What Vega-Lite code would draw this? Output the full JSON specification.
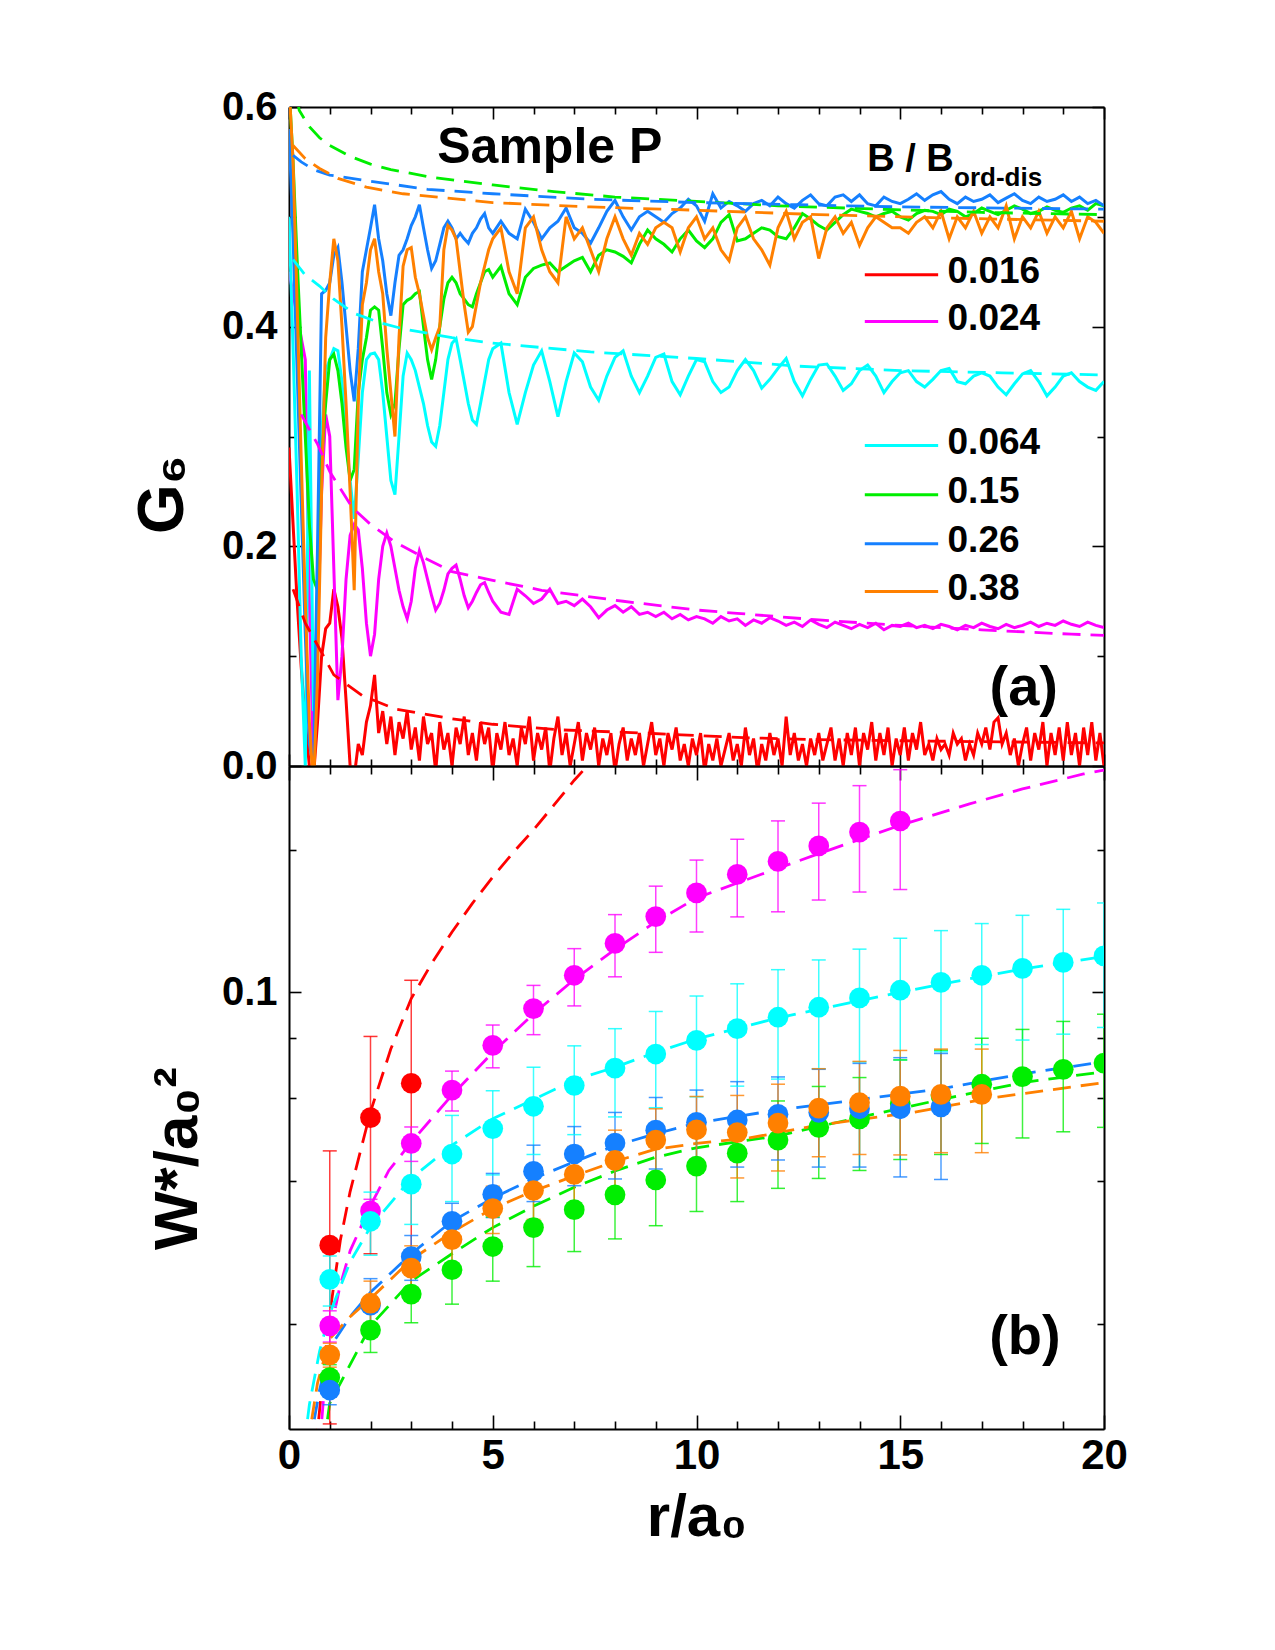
{
"$schema":"https://vega.github.io/schema/vega-lite/v6.json",
"background":"white",
"padding":{"left":131,"top":87,"right":5,"bottom":5},
"spacing":0,
"bounds":"flush",
"config":{
 "view":{"stroke":null},
 "font":"Liberation Sans",
 "axis":{"domainColor":"black","domainWidth":2,"tickColor":"black","tickWidth":1.6,"labelFont":"Liberation Sans","labelFontWeight":"bold","labelColor":"black","titleFont":"Liberation Sans","titleFontWeight":"bold","titleColor":"black","grid":false,"labelFlush":false,"labelOverlap":false}
},
"datasets":{
"g6":[
{"s":"a","r":0,"g":0.29},{"s":"a","r":0.1,"g":0.22},{"s":"a","r":0.2,"g":0.15},{"s":"a","r":0.3,"g":0.09},{"s":"a","r":0.4,"g":0.04},{"s":"a","r":0.5,"g":0.0},{"s":"a","r":0.6,"g":-0.01},{"s":"a","r":0.7,"g":0.04},{"s":"a","r":0.8,"g":0.10},{"s":"a","r":0.9,"g":0.125},
{"s":"a","r":1.0,"g":0.13},{"s":"a","r":1.1,"g":0.161},{"s":"a","r":1.2,"g":0.145},{"s":"a","r":1.3,"g":0.116},{"s":"a","r":1.4,"g":0.06},{"s":"a","r":1.5,"g":0.0},{"s":"a","r":1.6,"g":-0.01},{"s":"a","r":1.7,"g":0.02},{"s":"a","r":1.8,"g":0.01},{"s":"a","r":1.9,"g":0.04},
{"s":"a","r":2.0,"g":0.055},{"s":"a","r":2.1,"g":0.083},{"s":"a","r":2.2,"g":0.03},{"s":"a","r":2.3,"g":0.05},{"s":"a","r":2.4,"g":0.02},{"s":"a","r":2.5,"g":0.045},{"s":"a","r":2.6,"g":0.01},{"s":"a","r":2.7,"g":0.04},{"s":"a","r":2.8,"g":0.025},{"s":"a","r":2.9,"g":0.05},
{"s":"a","r":3.0,"g":0.015},{"s":"a","r":3.1,"g":0.035},{"s":"a","r":3.2,"g":0.005},{"s":"a","r":3.3,"g":0.045},{"s":"a","r":3.4,"g":0.02},{"s":"a","r":3.5,"g":0.03},{"s":"a","r":3.6,"g":-0.005},{"s":"a","r":3.7,"g":0.04},{"s":"a","r":3.8,"g":0.015},{"s":"a","r":3.9,"g":0.03},
{"s":"a","r":4.0,"g":0.0},{"s":"a","r":4.1,"g":0.035},{"s":"a","r":4.2,"g":0.02},{"s":"a","r":4.3,"g":0.045},{"s":"a","r":4.4,"g":0.01},{"s":"a","r":4.5,"g":0.03},{"s":"a","r":4.6,"g":0.005},{"s":"a","r":4.7,"g":0.04},{"s":"a","r":4.8,"g":0.02},{"s":"a","r":4.9,"g":0.035},
{"s":"a","r":5.0,"g":-0.005},{"s":"a","r":5.1,"g":0.03},{"s":"a","r":5.2,"g":0.015},{"s":"a","r":5.3,"g":0.04},{"s":"a","r":5.4,"g":0.01},{"s":"a","r":5.5,"g":0.025},{"s":"a","r":5.6,"g":0.0},{"s":"a","r":5.7,"g":0.035},{"s":"a","r":5.8,"g":0.02},{"s":"a","r":5.9,"g":0.045},
{"s":"a","r":6.0,"g":0.005},{"s":"a","r":6.1,"g":0.03},{"s":"a","r":6.2,"g":0.015},{"s":"a","r":6.3,"g":0.035},{"s":"a","r":6.4,"g":-0.005},{"s":"a","r":6.5,"g":0.025},{"s":"a","r":6.6,"g":0.045},{"s":"a","r":6.7,"g":0.01},{"s":"a","r":6.8,"g":0.03},{"s":"a","r":6.9,"g":0.0},
{"s":"a","r":7.0,"g":0.02},{"s":"a","r":7.1,"g":0.04},{"s":"a","r":7.2,"g":0.005},{"s":"a","r":7.3,"g":0.03},{"s":"a","r":7.4,"g":0.015},{"s":"a","r":7.5,"g":0.035},{"s":"a","r":7.6,"g":0.0},{"s":"a","r":7.7,"g":0.025},{"s":"a","r":7.8,"g":0.01},{"s":"a","r":7.9,"g":0.03},
{"s":"a","r":8.0,"g":-0.005},{"s":"a","r":8.1,"g":0.02},{"s":"a","r":8.2,"g":0.035},{"s":"a","r":8.3,"g":0.005},{"s":"a","r":8.4,"g":0.025},{"s":"a","r":8.5,"g":0.01},{"s":"a","r":8.6,"g":0.03},{"s":"a","r":8.7,"g":0.0},{"s":"a","r":8.8,"g":0.02},{"s":"a","r":8.9,"g":0.04},
{"s":"a","r":9.0,"g":0.01},{"s":"a","r":9.1,"g":0.025},{"s":"a","r":9.2,"g":0.0},{"s":"a","r":9.3,"g":0.03},{"s":"a","r":9.4,"g":0.015},{"s":"a","r":9.5,"g":0.035},{"s":"a","r":9.6,"g":0.005},{"s":"a","r":9.7,"g":0.02},{"s":"a","r":9.8,"g":0.0},{"s":"a","r":9.9,"g":0.025},
{"s":"a","r":10.0,"g":0.01},{"s":"a","r":10.1,"g":0.03},{"s":"a","r":10.2,"g":-0.005},{"s":"a","r":10.3,"g":0.02},{"s":"a","r":10.4,"g":0.005},{"s":"a","r":10.5,"g":0.025},{"s":"a","r":10.6,"g":0.0},{"s":"a","r":10.7,"g":0.015},{"s":"a","r":10.8,"g":0.03},{"s":"a","r":10.9,"g":0.005},
{"s":"a","r":11.0,"g":0.02},{"s":"a","r":11.1,"g":0.0},{"s":"a","r":11.2,"g":0.035},{"s":"a","r":11.3,"g":0.01},{"s":"a","r":11.4,"g":0.025},{"s":"a","r":11.5,"g":-0.005},{"s":"a","r":11.6,"g":0.02},{"s":"a","r":11.7,"g":0.005},{"s":"a","r":11.8,"g":0.03},{"s":"a","r":11.9,"g":0.01},
{"s":"a","r":12.0,"g":0.025},{"s":"a","r":12.1,"g":0.0},{"s":"a","r":12.2,"g":0.045},{"s":"a","r":12.3,"g":0.01},{"s":"a","r":12.4,"g":0.03},{"s":"a","r":12.5,"g":0.005},{"s":"a","r":12.6,"g":0.02},{"s":"a","r":12.7,"g":0.0},{"s":"a","r":12.8,"g":0.025},{"s":"a","r":12.9,"g":0.01},
{"s":"a","r":13.0,"g":0.03},{"s":"a","r":13.1,"g":0.005},{"s":"a","r":13.2,"g":0.02},{"s":"a","r":13.3,"g":0.035},{"s":"a","r":13.4,"g":0.005},{"s":"a","r":13.5,"g":0.025},{"s":"a","r":13.6,"g":0.0},{"s":"a","r":13.7,"g":0.03},{"s":"a","r":13.8,"g":0.01},{"s":"a","r":13.9,"g":0.035},
{"s":"a","r":14.0,"g":0.0},{"s":"a","r":14.1,"g":0.03},{"s":"a","r":14.2,"g":0.015},{"s":"a","r":14.3,"g":0.04},{"s":"a","r":14.4,"g":0.005},{"s":"a","r":14.5,"g":0.03},{"s":"a","r":14.6,"g":0.01},{"s":"a","r":14.7,"g":0.035},{"s":"a","r":14.8,"g":0.0},{"s":"a","r":14.9,"g":0.025},
{"s":"a","r":15.0,"g":0.01},{"s":"a","r":15.1,"g":0.035},{"s":"a","r":15.2,"g":0.005},{"s":"a","r":15.3,"g":0.03},{"s":"a","r":15.4,"g":0.015},{"s":"a","r":15.5,"g":0.04},{"s":"a","r":15.6,"g":0.01},{"s":"a","r":15.7,"g":0.02},{"s":"a","r":15.8,"g":0.005},{"s":"a","r":15.9,"g":0.025},
{"s":"a","r":16.0,"g":0.015},{"s":"a","r":16.1,"g":0.02},{"s":"a","r":16.2,"g":0.01},{"s":"a","r":16.3,"g":0.03},{"s":"a","r":16.4,"g":0.02},{"s":"a","r":16.5,"g":0.025},{"s":"a","r":16.6,"g":0.005},{"s":"a","r":16.7,"g":0.02},{"s":"a","r":16.8,"g":0.01},{"s":"a","r":16.9,"g":0.03},
{"s":"a","r":17.0,"g":0.02},{"s":"a","r":17.1,"g":0.035},{"s":"a","r":17.2,"g":0.015},{"s":"a","r":17.3,"g":0.04},{"s":"a","r":17.4,"g":0.044},{"s":"a","r":17.5,"g":0.02},{"s":"a","r":17.6,"g":0.03},{"s":"a","r":17.7,"g":0.01},{"s":"a","r":17.8,"g":0.025},{"s":"a","r":17.9,"g":0.0},
{"s":"a","r":18.0,"g":0.02},{"s":"a","r":18.1,"g":0.035},{"s":"a","r":18.2,"g":0.005},{"s":"a","r":18.3,"g":0.03},{"s":"a","r":18.4,"g":0.015},{"s":"a","r":18.5,"g":0.04},{"s":"a","r":18.6,"g":0.0},{"s":"a","r":18.7,"g":0.03},{"s":"a","r":18.8,"g":0.01},{"s":"a","r":18.9,"g":0.035},
{"s":"a","r":19.0,"g":0.005},{"s":"a","r":19.1,"g":0.04},{"s":"a","r":19.2,"g":0.01},{"s":"a","r":19.3,"g":0.03},{"s":"a","r":19.4,"g":0.0},{"s":"a","r":19.5,"g":0.035},{"s":"a","r":19.6,"g":0.01},{"s":"a","r":19.7,"g":0.04},{"s":"a","r":19.8,"g":0.005},{"s":"a","r":19.9,"g":0.03},{"s":"a","r":20.0,"g":0.0},

{"s":"b","r":0,"g":0.45},{"s":"b","r":0.1,"g":0.43},{"s":"b","r":0.2,"g":0.41},{"s":"b","r":0.3,"g":0.39},{"s":"b","r":0.4,"g":0.37},{"s":"b","r":0.5,"g":0.15},{"s":"b","r":0.6,"g":0.0},{"s":"b","r":0.7,"g":0.12},{"s":"b","r":0.8,"g":0.25},{"s":"b","r":0.9,"g":0.32},
{"s":"b","r":1.0,"g":0.30},{"s":"b","r":1.1,"g":0.18},{"s":"b","r":1.2,"g":0.06},{"s":"b","r":1.3,"g":0.10},{"s":"b","r":1.4,"g":0.17},{"s":"b","r":1.5,"g":0.21},{"s":"b","r":1.6,"g":0.22},{"s":"b","r":1.7,"g":0.215},{"s":"b","r":1.8,"g":0.18},{"s":"b","r":1.9,"g":0.13},
{"s":"b","r":2.0,"g":0.10},{"s":"b","r":2.1,"g":0.12},{"s":"b","r":2.2,"g":0.17},{"s":"b","r":2.3,"g":0.20},{"s":"b","r":2.4,"g":0.212},{"s":"b","r":2.5,"g":0.20},{"s":"b","r":2.6,"g":0.18},{"s":"b","r":2.7,"g":0.16},{"s":"b","r":2.8,"g":0.145},{"s":"b","r":2.9,"g":0.134},
{"s":"b","r":3.0,"g":0.15},{"s":"b","r":3.1,"g":0.18},{"s":"b","r":3.2,"g":0.196},{"s":"b","r":3.3,"g":0.185},{"s":"b","r":3.4,"g":0.17},{"s":"b","r":3.5,"g":0.155},{"s":"b","r":3.6,"g":0.142},{"s":"b","r":3.7,"g":0.148},{"s":"b","r":3.8,"g":0.16},{"s":"b","r":3.9,"g":0.175},
{"s":"b","r":4.0,"g":0.18},{"s":"b","r":4.1,"g":0.183},{"s":"b","r":4.2,"g":0.17},{"s":"b","r":4.3,"g":0.155},{"s":"b","r":4.4,"g":0.144},{"s":"b","r":4.5,"g":0.15},{"s":"b","r":4.6,"g":0.158},{"s":"b","r":4.7,"g":0.165},{"s":"b","r":4.8,"g":0.167},{"s":"b","r":4.9,"g":0.158},{"s":"b","r":5.0,"g":0.15},
{"s":"b","r":5.2,"g":0.14},{"s":"b","r":5.4,"g":0.138},{"s":"b","r":5.6,"g":0.161},{"s":"b","r":5.8,"g":0.155},{"s":"b","r":6.0,"g":0.148},{"s":"b","r":6.2,"g":0.152},{"s":"b","r":6.4,"g":0.161},{"s":"b","r":6.6,"g":0.148},{"s":"b","r":6.8,"g":0.15},{"s":"b","r":7.0,"g":0.146},
{"s":"b","r":7.2,"g":0.152},{"s":"b","r":7.4,"g":0.145},{"s":"b","r":7.6,"g":0.135},{"s":"b","r":7.8,"g":0.142},{"s":"b","r":8.0,"g":0.146},{"s":"b","r":8.2,"g":0.14},{"s":"b","r":8.4,"g":0.145},{"s":"b","r":8.6,"g":0.138},{"s":"b","r":8.8,"g":0.14},{"s":"b","r":9.0,"g":0.136},
{"s":"b","r":9.2,"g":0.14},{"s":"b","r":9.4,"g":0.134},{"s":"b","r":9.6,"g":0.138},{"s":"b","r":9.8,"g":0.133},{"s":"b","r":10.0,"g":0.136},{"s":"b","r":10.2,"g":0.134},{"s":"b","r":10.4,"g":0.13},{"s":"b","r":10.6,"g":0.136},{"s":"b","r":10.8,"g":0.132},{"s":"b","r":11.0,"g":0.134},
{"s":"b","r":11.2,"g":0.128},{"s":"b","r":11.4,"g":0.133},{"s":"b","r":11.6,"g":0.13},{"s":"b","r":11.8,"g":0.135},{"s":"b","r":12.0,"g":0.132},{"s":"b","r":12.2,"g":0.128},{"s":"b","r":12.4,"g":0.131},{"s":"b","r":12.6,"g":0.127},{"s":"b","r":12.8,"g":0.133},{"s":"b","r":13.0,"g":0.129},
{"s":"b","r":13.2,"g":0.126},{"s":"b","r":13.4,"g":0.131},{"s":"b","r":13.6,"g":0.128},{"s":"b","r":13.8,"g":0.125},{"s":"b","r":14.0,"g":0.129},{"s":"b","r":14.2,"g":0.126},{"s":"b","r":14.4,"g":0.13},{"s":"b","r":14.6,"g":0.124},{"s":"b","r":14.8,"g":0.128},{"s":"b","r":15.0,"g":0.127},
{"s":"b","r":15.2,"g":0.13},{"s":"b","r":15.4,"g":0.126},{"s":"b","r":15.6,"g":0.128},{"s":"b","r":15.8,"g":0.125},{"s":"b","r":16.0,"g":0.129},{"s":"b","r":16.2,"g":0.127},{"s":"b","r":16.4,"g":0.124},{"s":"b","r":16.6,"g":0.128},{"s":"b","r":16.8,"g":0.126},{"s":"b","r":17.0,"g":0.13},
{"s":"b","r":17.2,"g":0.127},{"s":"b","r":17.4,"g":0.125},{"s":"b","r":17.6,"g":0.129},{"s":"b","r":17.8,"g":0.126},{"s":"b","r":18.0,"g":0.128},{"s":"b","r":18.2,"g":0.131},{"s":"b","r":18.4,"g":0.127},{"s":"b","r":18.6,"g":0.13},{"s":"b","r":18.8,"g":0.128},{"s":"b","r":19.0,"g":0.132},
{"s":"b","r":19.2,"g":0.129},{"s":"b","r":19.4,"g":0.127},{"s":"b","r":19.6,"g":0.131},{"s":"b","r":19.8,"g":0.128},{"s":"b","r":20.0,"g":0.126},

{"s":"c","r":0,"g":0.50},{"s":"c","r":0.1,"g":0.38},{"s":"c","r":0.2,"g":0.25},{"s":"c","r":0.3,"g":0.10},{"s":"c","r":0.4,"g":0.0},{"s":"c","r":0.5,"g":0.36},{"s":"c","r":0.6,"g":0.05},{"s":"c","r":0.7,"g":0.15},{"s":"c","r":0.8,"g":0.30},{"s":"c","r":0.9,"g":0.36},
{"s":"c","r":1.0,"g":0.37},{"s":"c","r":1.1,"g":0.38},{"s":"c","r":1.2,"g":0.378},{"s":"c","r":1.3,"g":0.35},{"s":"c","r":1.4,"g":0.30},{"s":"c","r":1.5,"g":0.26},{"s":"c","r":1.6,"g":0.225},{"s":"c","r":1.7,"g":0.28},{"s":"c","r":1.8,"g":0.34},{"s":"c","r":1.9,"g":0.37},
{"s":"c","r":2.0,"g":0.375},{"s":"c","r":2.1,"g":0.376},{"s":"c","r":2.2,"g":0.37},{"s":"c","r":2.3,"g":0.34},{"s":"c","r":2.4,"g":0.30},{"s":"c","r":2.5,"g":0.26},{"s":"c","r":2.6,"g":0.247},{"s":"c","r":2.7,"g":0.30},{"s":"c","r":2.8,"g":0.355},{"s":"c","r":2.9,"g":0.376},
{"s":"c","r":3.0,"g":0.37},{"s":"c","r":3.1,"g":0.36},{"s":"c","r":3.2,"g":0.345},{"s":"c","r":3.3,"g":0.33},{"s":"c","r":3.4,"g":0.31},{"s":"c","r":3.5,"g":0.295},{"s":"c","r":3.6,"g":0.291},{"s":"c","r":3.7,"g":0.31},{"s":"c","r":3.8,"g":0.34},{"s":"c","r":3.9,"g":0.37},
{"s":"c","r":4.0,"g":0.385},{"s":"c","r":4.1,"g":0.389},{"s":"c","r":4.2,"g":0.37},{"s":"c","r":4.3,"g":0.35},{"s":"c","r":4.4,"g":0.33},{"s":"c","r":4.5,"g":0.315},{"s":"c","r":4.6,"g":0.311},{"s":"c","r":4.7,"g":0.33},{"s":"c","r":4.8,"g":0.35},{"s":"c","r":4.9,"g":0.37},{"s":"c","r":5.0,"g":0.38},
{"s":"c","r":5.2,"g":0.385},{"s":"c","r":5.4,"g":0.34},{"s":"c","r":5.6,"g":0.311},{"s":"c","r":5.8,"g":0.34},{"s":"c","r":6.0,"g":0.365},{"s":"c","r":6.2,"g":0.378},{"s":"c","r":6.4,"g":0.35},{"s":"c","r":6.6,"g":0.318},{"s":"c","r":6.8,"g":0.35},{"s":"c","r":7.0,"g":0.376},
{"s":"c","r":7.2,"g":0.368},{"s":"c","r":7.4,"g":0.345},{"s":"c","r":7.6,"g":0.333},{"s":"c","r":7.8,"g":0.355},{"s":"c","r":8.0,"g":0.372},{"s":"c","r":8.2,"g":0.378},{"s":"c","r":8.4,"g":0.355},{"s":"c","r":8.6,"g":0.34},{"s":"c","r":8.8,"g":0.355},{"s":"c","r":9.0,"g":0.372},
{"s":"c","r":9.2,"g":0.375},{"s":"c","r":9.4,"g":0.35},{"s":"c","r":9.6,"g":0.338},{"s":"c","r":9.8,"g":0.355},{"s":"c","r":10.0,"g":0.37},{"s":"c","r":10.2,"g":0.368},{"s":"c","r":10.4,"g":0.35},{"s":"c","r":10.6,"g":0.34},{"s":"c","r":10.8,"g":0.345},{"s":"c","r":11.0,"g":0.36},
{"s":"c","r":11.2,"g":0.37},{"s":"c","r":11.4,"g":0.36},{"s":"c","r":11.6,"g":0.344},{"s":"c","r":11.8,"g":0.352},{"s":"c","r":12.0,"g":0.362},{"s":"c","r":12.2,"g":0.371},{"s":"c","r":12.4,"g":0.35},{"s":"c","r":12.6,"g":0.337},{"s":"c","r":12.8,"g":0.352},{"s":"c","r":13.0,"g":0.365},
{"s":"c","r":13.2,"g":0.366},{"s":"c","r":13.4,"g":0.355},{"s":"c","r":13.6,"g":0.342},{"s":"c","r":13.8,"g":0.348},{"s":"c","r":14.0,"g":0.36},{"s":"c","r":14.2,"g":0.365},{"s":"c","r":14.4,"g":0.355},{"s":"c","r":14.6,"g":0.34},{"s":"c","r":14.8,"g":0.35},{"s":"c","r":15.0,"g":0.358},
{"s":"c","r":15.2,"g":0.36},{"s":"c","r":15.4,"g":0.35},{"s":"c","r":15.6,"g":0.345},{"s":"c","r":15.8,"g":0.352},{"s":"c","r":16.0,"g":0.36},{"s":"c","r":16.2,"g":0.362},{"s":"c","r":16.4,"g":0.35},{"s":"c","r":16.6,"g":0.348},{"s":"c","r":16.8,"g":0.355},{"s":"c","r":17.0,"g":0.358},
{"s":"c","r":17.2,"g":0.355},{"s":"c","r":17.4,"g":0.345},{"s":"c","r":17.6,"g":0.338},{"s":"c","r":17.8,"g":0.348},{"s":"c","r":18.0,"g":0.357},{"s":"c","r":18.2,"g":0.36},{"s":"c","r":18.4,"g":0.35},{"s":"c","r":18.6,"g":0.337},{"s":"c","r":18.8,"g":0.345},{"s":"c","r":19.0,"g":0.355},
{"s":"c","r":19.2,"g":0.358},{"s":"c","r":19.4,"g":0.35},{"s":"c","r":19.6,"g":0.345},{"s":"c","r":19.8,"g":0.342},{"s":"c","r":20.0,"g":0.35},

{"s":"d","r":0,"g":0.62},{"s":"d","r":0.1,"g":0.55},{"s":"d","r":0.2,"g":0.46},{"s":"d","r":0.3,"g":0.38},{"s":"d","r":0.4,"g":0.30},{"s":"d","r":0.5,"g":0.22},{"s":"d","r":0.6,"g":0.17},{"s":"d","r":0.7,"g":0.16},{"s":"d","r":0.8,"g":0.28},{"s":"d","r":0.9,"g":0.33},
{"s":"d","r":1.0,"g":0.37},{"s":"d","r":1.1,"g":0.375},{"s":"d","r":1.2,"g":0.36},{"s":"d","r":1.3,"g":0.33},{"s":"d","r":1.4,"g":0.29},{"s":"d","r":1.5,"g":0.26},{"s":"d","r":1.6,"g":0.27},{"s":"d","r":1.7,"g":0.34},{"s":"d","r":1.8,"g":0.37},{"s":"d","r":1.9,"g":0.39},
{"s":"d","r":2.0,"g":0.415},{"s":"d","r":2.1,"g":0.418},{"s":"d","r":2.2,"g":0.415},{"s":"d","r":2.3,"g":0.38},{"s":"d","r":2.4,"g":0.34},{"s":"d","r":2.5,"g":0.32},{"s":"d","r":2.6,"g":0.33},{"s":"d","r":2.7,"g":0.38},{"s":"d","r":2.8,"g":0.42},{"s":"d","r":2.9,"g":0.424},
{"s":"d","r":3.0,"g":0.426},{"s":"d","r":3.1,"g":0.43},{"s":"d","r":3.2,"g":0.432},{"s":"d","r":3.3,"g":0.40},{"s":"d","r":3.4,"g":0.37},{"s":"d","r":3.5,"g":0.352},{"s":"d","r":3.6,"g":0.37},{"s":"d","r":3.7,"g":0.40},{"s":"d","r":3.8,"g":0.425},{"s":"d","r":3.9,"g":0.44},
{"s":"d","r":4.0,"g":0.445},{"s":"d","r":4.1,"g":0.44},{"s":"d","r":4.2,"g":0.43},{"s":"d","r":4.3,"g":0.425},{"s":"d","r":4.4,"g":0.42},{"s":"d","r":4.5,"g":0.418},{"s":"d","r":4.6,"g":0.43},{"s":"d","r":4.7,"g":0.44},{"s":"d","r":4.8,"g":0.45},{"s":"d","r":4.9,"g":0.452},{"s":"d","r":5.0,"g":0.445},
{"s":"d","r":5.2,"g":0.455},{"s":"d","r":5.4,"g":0.43},{"s":"d","r":5.6,"g":0.42},{"s":"d","r":5.8,"g":0.445},{"s":"d","r":6.0,"g":0.453},{"s":"d","r":6.2,"g":0.456},{"s":"d","r":6.4,"g":0.458},{"s":"d","r":6.6,"g":0.45},{"s":"d","r":6.8,"g":0.455},{"s":"d","r":7.0,"g":0.46},
{"s":"d","r":7.2,"g":0.463},{"s":"d","r":7.4,"g":0.45},{"s":"d","r":7.6,"g":0.465},{"s":"d","r":7.8,"g":0.47},{"s":"d","r":8.0,"g":0.468},{"s":"d","r":8.2,"g":0.464},{"s":"d","r":8.4,"g":0.458},{"s":"d","r":8.6,"g":0.475},{"s":"d","r":8.8,"g":0.488},{"s":"d","r":9.0,"g":0.48},
{"s":"d","r":9.2,"g":0.475},{"s":"d","r":9.4,"g":0.468},{"s":"d","r":9.6,"g":0.48},{"s":"d","r":9.8,"g":0.488},{"s":"d","r":10.0,"g":0.478},{"s":"d","r":10.2,"g":0.472},{"s":"d","r":10.4,"g":0.48},{"s":"d","r":10.6,"g":0.495},{"s":"d","r":10.8,"g":0.502},{"s":"d","r":11.0,"g":0.478},
{"s":"d","r":11.2,"g":0.48},{"s":"d","r":11.4,"g":0.485},{"s":"d","r":11.6,"g":0.49},{"s":"d","r":11.8,"g":0.488},{"s":"d","r":12.0,"g":0.482},{"s":"d","r":12.2,"g":0.48},{"s":"d","r":12.4,"g":0.49},{"s":"d","r":12.6,"g":0.503},{"s":"d","r":12.8,"g":0.498},{"s":"d","r":13.0,"g":0.492},
{"s":"d","r":13.2,"g":0.488},{"s":"d","r":13.4,"g":0.495},{"s":"d","r":13.6,"g":0.502},{"s":"d","r":13.8,"g":0.507},{"s":"d","r":14.0,"g":0.505},{"s":"d","r":14.2,"g":0.503},{"s":"d","r":14.4,"g":0.5},{"s":"d","r":14.6,"g":0.503},{"s":"d","r":14.8,"g":0.505},{"s":"d","r":15.0,"g":0.5},
{"s":"d","r":15.2,"g":0.497},{"s":"d","r":15.4,"g":0.503},{"s":"d","r":15.6,"g":0.506},{"s":"d","r":15.8,"g":0.505},{"s":"d","r":16.0,"g":0.502},{"s":"d","r":16.2,"g":0.507},{"s":"d","r":16.4,"g":0.505},{"s":"d","r":16.6,"g":0.5},{"s":"d","r":16.8,"g":0.503},{"s":"d","r":17.0,"g":0.508},
{"s":"d","r":17.2,"g":0.505},{"s":"d","r":17.4,"g":0.502},{"s":"d","r":17.6,"g":0.506},{"s":"d","r":17.8,"g":0.51},{"s":"d","r":18.0,"g":0.507},{"s":"d","r":18.2,"g":0.503},{"s":"d","r":18.4,"g":0.505},{"s":"d","r":18.6,"g":0.509},{"s":"d","r":18.8,"g":0.506},{"s":"d","r":19.0,"g":0.504},
{"s":"d","r":19.2,"g":0.508},{"s":"d","r":19.4,"g":0.51},{"s":"d","r":19.6,"g":0.506},{"s":"d","r":19.8,"g":0.512},{"s":"d","r":20.0,"g":0.51},

{"s":"e","r":0,"g":0.58},{"s":"e","r":0.1,"g":0.48},{"s":"e","r":0.2,"g":0.36},{"s":"e","r":0.3,"g":0.24},{"s":"e","r":0.4,"g":0.12},{"s":"e","r":0.5,"g":0.02},{"s":"e","r":0.6,"g":0.0},{"s":"e","r":0.7,"g":0.2},{"s":"e","r":0.8,"g":0.43},{"s":"e","r":0.9,"g":0.433},
{"s":"e","r":1.0,"g":0.44},{"s":"e","r":1.1,"g":0.465},{"s":"e","r":1.2,"g":0.472},{"s":"e","r":1.3,"g":0.44},{"s":"e","r":1.4,"g":0.40},{"s":"e","r":1.5,"g":0.36},{"s":"e","r":1.6,"g":0.332},{"s":"e","r":1.7,"g":0.38},{"s":"e","r":1.8,"g":0.45},{"s":"e","r":1.9,"g":0.47},
{"s":"e","r":2.0,"g":0.49},{"s":"e","r":2.1,"g":0.511},{"s":"e","r":2.2,"g":0.48},{"s":"e","r":2.3,"g":0.46},{"s":"e","r":2.4,"g":0.43},{"s":"e","r":2.5,"g":0.41},{"s":"e","r":2.6,"g":0.44},{"s":"e","r":2.7,"g":0.465},{"s":"e","r":2.8,"g":0.47},{"s":"e","r":2.9,"g":0.48},
{"s":"e","r":3.0,"g":0.492},{"s":"e","r":3.1,"g":0.50},{"s":"e","r":3.2,"g":0.511},{"s":"e","r":3.3,"g":0.49},{"s":"e","r":3.4,"g":0.47},{"s":"e","r":3.5,"g":0.453},{"s":"e","r":3.6,"g":0.46},{"s":"e","r":3.7,"g":0.475},{"s":"e","r":3.8,"g":0.49},{"s":"e","r":3.9,"g":0.496},
{"s":"e","r":4.0,"g":0.49},{"s":"e","r":4.1,"g":0.48},{"s":"e","r":4.2,"g":0.485},{"s":"e","r":4.3,"g":0.48},{"s":"e","r":4.4,"g":0.476},{"s":"e","r":4.5,"g":0.485},{"s":"e","r":4.6,"g":0.49},{"s":"e","r":4.7,"g":0.498},{"s":"e","r":4.8,"g":0.503},{"s":"e","r":4.9,"g":0.49},{"s":"e","r":5.0,"g":0.485},
{"s":"e","r":5.2,"g":0.496},{"s":"e","r":5.4,"g":0.485},{"s":"e","r":5.6,"g":0.48},{"s":"e","r":5.8,"g":0.507},{"s":"e","r":6.0,"g":0.495},{"s":"e","r":6.2,"g":0.48},{"s":"e","r":6.4,"g":0.49},{"s":"e","r":6.6,"g":0.496},{"s":"e","r":6.8,"g":0.508},{"s":"e","r":7.0,"g":0.49},
{"s":"e","r":7.2,"g":0.485},{"s":"e","r":7.4,"g":0.476},{"s":"e","r":7.6,"g":0.49},{"s":"e","r":7.8,"g":0.505},{"s":"e","r":8.0,"g":0.515},{"s":"e","r":8.2,"g":0.50},{"s":"e","r":8.4,"g":0.488},{"s":"e","r":8.6,"g":0.50},{"s":"e","r":8.8,"g":0.505},{"s":"e","r":9.0,"g":0.50},
{"s":"e","r":9.2,"g":0.495},{"s":"e","r":9.4,"g":0.503},{"s":"e","r":9.6,"g":0.508},{"s":"e","r":9.8,"g":0.516},{"s":"e","r":10.0,"g":0.51},{"s":"e","r":10.2,"g":0.496},{"s":"e","r":10.4,"g":0.521},{"s":"e","r":10.6,"g":0.508},{"s":"e","r":10.8,"g":0.514},{"s":"e","r":11.0,"g":0.51},
{"s":"e","r":11.2,"g":0.505},{"s":"e","r":11.4,"g":0.512},{"s":"e","r":11.6,"g":0.515},{"s":"e","r":11.8,"g":0.51},{"s":"e","r":12.0,"g":0.518},{"s":"e","r":12.2,"g":0.512},{"s":"e","r":12.4,"g":0.508},{"s":"e","r":12.6,"g":0.515},{"s":"e","r":12.8,"g":0.52},{"s":"e","r":13.0,"g":0.512},
{"s":"e","r":13.2,"g":0.51},{"s":"e","r":13.4,"g":0.518},{"s":"e","r":13.6,"g":0.52},{"s":"e","r":13.8,"g":0.514},{"s":"e","r":14.0,"g":0.52},{"s":"e","r":14.2,"g":0.512},{"s":"e","r":14.4,"g":0.51},{"s":"e","r":14.6,"g":0.518},{"s":"e","r":14.8,"g":0.514},{"s":"e","r":15.0,"g":0.512},
{"s":"e","r":15.2,"g":0.516},{"s":"e","r":15.4,"g":0.521},{"s":"e","r":15.6,"g":0.515},{"s":"e","r":15.8,"g":0.52},{"s":"e","r":16.0,"g":0.523},{"s":"e","r":16.2,"g":0.516},{"s":"e","r":16.4,"g":0.512},{"s":"e","r":16.6,"g":0.518},{"s":"e","r":16.8,"g":0.514},{"s":"e","r":17.0,"g":0.516},
{"s":"e","r":17.2,"g":0.52},{"s":"e","r":17.4,"g":0.513},{"s":"e","r":17.6,"g":0.517},{"s":"e","r":17.8,"g":0.521},{"s":"e","r":18.0,"g":0.515},{"s":"e","r":18.2,"g":0.512},{"s":"e","r":18.4,"g":0.518},{"s":"e","r":18.6,"g":0.514},{"s":"e","r":18.8,"g":0.516},{"s":"e","r":19.0,"g":0.52},
{"s":"e","r":19.2,"g":0.514},{"s":"e","r":19.4,"g":0.518},{"s":"e","r":19.6,"g":0.512},{"s":"e","r":19.8,"g":0.515},{"s":"e","r":20.0,"g":0.51},

{"s":"f","r":0,"g":0.62},{"s":"f","r":0.1,"g":0.55},{"s":"f","r":0.2,"g":0.42},{"s":"f","r":0.3,"g":0.28},{"s":"f","r":0.4,"g":0.15},{"s":"f","r":0.5,"g":0.04},{"s":"f","r":0.6,"g":-0.02},{"s":"f","r":0.7,"g":0.08},{"s":"f","r":0.8,"g":0.25},{"s":"f","r":0.9,"g":0.39},
{"s":"f","r":1.0,"g":0.44},{"s":"f","r":1.1,"g":0.48},{"s":"f","r":1.2,"g":0.46},{"s":"f","r":1.3,"g":0.40},{"s":"f","r":1.4,"g":0.33},{"s":"f","r":1.5,"g":0.25},{"s":"f","r":1.6,"g":0.16},{"s":"f","r":1.7,"g":0.33},{"s":"f","r":1.8,"g":0.42},{"s":"f","r":1.9,"g":0.44},
{"s":"f","r":2.0,"g":0.47},{"s":"f","r":2.1,"g":0.48},{"s":"f","r":2.2,"g":0.45},{"s":"f","r":2.3,"g":0.43},{"s":"f","r":2.4,"g":0.38},{"s":"f","r":2.5,"g":0.34},{"s":"f","r":2.6,"g":0.30},{"s":"f","r":2.7,"g":0.39},{"s":"f","r":2.8,"g":0.455},{"s":"f","r":2.9,"g":0.47},
{"s":"f","r":3.0,"g":0.472},{"s":"f","r":3.1,"g":0.445},{"s":"f","r":3.2,"g":0.43},{"s":"f","r":3.3,"g":0.41},{"s":"f","r":3.4,"g":0.39},{"s":"f","r":3.5,"g":0.379},{"s":"f","r":3.6,"g":0.39},{"s":"f","r":3.7,"g":0.40},{"s":"f","r":3.8,"g":0.47},{"s":"f","r":3.9,"g":0.492},
{"s":"f","r":4.0,"g":0.488},{"s":"f","r":4.1,"g":0.48},{"s":"f","r":4.2,"g":0.45},{"s":"f","r":4.3,"g":0.42},{"s":"f","r":4.4,"g":0.395},{"s":"f","r":4.5,"g":0.40},{"s":"f","r":4.6,"g":0.42},{"s":"f","r":4.7,"g":0.44},{"s":"f","r":4.8,"g":0.455},{"s":"f","r":4.9,"g":0.47},{"s":"f","r":5.0,"g":0.48},
{"s":"f","r":5.2,"g":0.49},{"s":"f","r":5.4,"g":0.45},{"s":"f","r":5.6,"g":0.43},{"s":"f","r":5.8,"g":0.49},{"s":"f","r":6.0,"g":0.50},{"s":"f","r":6.2,"g":0.47},{"s":"f","r":6.4,"g":0.45},{"s":"f","r":6.6,"g":0.44},{"s":"f","r":6.8,"g":0.50},{"s":"f","r":7.0,"g":0.48},
{"s":"f","r":7.2,"g":0.49},{"s":"f","r":7.4,"g":0.47},{"s":"f","r":7.6,"g":0.45},{"s":"f","r":7.8,"g":0.48},{"s":"f","r":8.0,"g":0.50},{"s":"f","r":8.2,"g":0.48},{"s":"f","r":8.4,"g":0.465},{"s":"f","r":8.6,"g":0.485},{"s":"f","r":8.8,"g":0.475},{"s":"f","r":9.0,"g":0.49},
{"s":"f","r":9.2,"g":0.495},{"s":"f","r":9.4,"g":0.49},{"s":"f","r":9.6,"g":0.468},{"s":"f","r":9.8,"g":0.49},{"s":"f","r":10.0,"g":0.50},{"s":"f","r":10.2,"g":0.48},{"s":"f","r":10.4,"g":0.49},{"s":"f","r":10.6,"g":0.47},{"s":"f","r":10.8,"g":0.46},{"s":"f","r":11.0,"g":0.49},
{"s":"f","r":11.2,"g":0.50},{"s":"f","r":11.4,"g":0.48},{"s":"f","r":11.6,"g":0.47},{"s":"f","r":11.8,"g":0.456},{"s":"f","r":12.0,"g":0.49},{"s":"f","r":12.2,"g":0.505},{"s":"f","r":12.4,"g":0.48},{"s":"f","r":12.6,"g":0.495},{"s":"f","r":12.8,"g":0.50},{"s":"f","r":13.0,"g":0.462},
{"s":"f","r":13.2,"g":0.49},{"s":"f","r":13.4,"g":0.50},{"s":"f","r":13.6,"g":0.485},{"s":"f","r":13.8,"g":0.495},{"s":"f","r":14.0,"g":0.474},{"s":"f","r":14.2,"g":0.49},{"s":"f","r":14.4,"g":0.50},{"s":"f","r":14.6,"g":0.495},{"s":"f","r":14.8,"g":0.49},{"s":"f","r":15.0,"g":0.49},
{"s":"f","r":15.2,"g":0.485},{"s":"f","r":15.4,"g":0.495},{"s":"f","r":15.6,"g":0.50},{"s":"f","r":15.8,"g":0.49},{"s":"f","r":16.0,"g":0.505},{"s":"f","r":16.2,"g":0.48},{"s":"f","r":16.4,"g":0.50},{"s":"f","r":16.6,"g":0.49},{"s":"f","r":16.8,"g":0.505},{"s":"f","r":17.0,"g":0.485},
{"s":"f","r":17.2,"g":0.50},{"s":"f","r":17.4,"g":0.49},{"s":"f","r":17.6,"g":0.51},{"s":"f","r":17.8,"g":0.48},{"s":"f","r":18.0,"g":0.50},{"s":"f","r":18.2,"g":0.49},{"s":"f","r":18.4,"g":0.505},{"s":"f","r":18.6,"g":0.485},{"s":"f","r":18.8,"g":0.50},{"s":"f","r":19.0,"g":0.49},
{"s":"f","r":19.2,"g":0.505},{"s":"f","r":19.4,"g":0.48},{"s":"f","r":19.6,"g":0.50},{"s":"f","r":19.8,"g":0.495},{"s":"f","r":20.0,"g":0.485}
],
"g6fit":[
{"s":"a","r":0.1,"g":0.161},{"s":"a","r":0.4,"g":0.13},{"s":"a","r":0.7,"g":0.11},{"s":"a","r":1.1,"g":0.083},{"s":"a","r":1.8,"g":0.064},{"s":"a","r":2.6,"g":0.052},{"s":"a","r":4,"g":0.043},{"s":"a","r":5,"g":0.038},{"s":"a","r":6.6,"g":0.033},{"s":"a","r":8.7,"g":0.03},{"s":"a","r":11,"g":0.026},{"s":"a","r":13,"g":0.024},{"s":"a","r":15,"g":0.023},{"s":"a","r":17.5,"g":0.022},{"s":"a","r":20,"g":0.021},
{"s":"b","r":0.3,"g":0.32},{"s":"b","r":0.7,"g":0.293},{"s":"b","r":1.0,"g":0.268},{"s":"b","r":1.56,"g":0.235},{"s":"b","r":2.0,"g":0.22},{"s":"b","r":2.6,"g":0.204},{"s":"b","r":3.3,"g":0.19},{"s":"b","r":4,"g":0.177},{"s":"b","r":5,"g":0.169},{"s":"b","r":6.2,"g":0.16},{"s":"b","r":8.2,"g":0.15},{"s":"b","r":10,"g":0.142},{"s":"b","r":11,"g":0.139},{"s":"b","r":13,"g":0.133},{"s":"b","r":15,"g":0.128},{"s":"b","r":17,"g":0.124},{"s":"b","r":19.2,"g":0.12},{"s":"b","r":20,"g":0.119},
{"s":"c","r":0.1,"g":0.461},{"s":"c","r":0.4,"g":0.447},{"s":"c","r":0.75,"g":0.437},{"s":"c","r":1.1,"g":0.425},{"s":"c","r":1.6,"g":0.412},{"s":"c","r":2.2,"g":0.404},{"s":"c","r":2.8,"g":0.398},{"s":"c","r":4,"g":0.39},{"s":"c","r":5,"g":0.385},{"s":"c","r":7.4,"g":0.377},{"s":"c","r":10,"g":0.371},{"s":"c","r":12.5,"g":0.364},{"s":"c","r":15,"g":0.36},{"s":"c","r":17.5,"g":0.358},{"s":"c","r":20,"g":0.356},
{"s":"d","r":0.1,"g":0.63},{"s":"d","r":0.25,"g":0.597},{"s":"d","r":0.5,"g":0.582},{"s":"d","r":0.75,"g":0.572},{"s":"d","r":1.0,"g":0.565},{"s":"d","r":1.5,"g":0.555},{"s":"d","r":2,"g":0.548},{"s":"d","r":2.5,"g":0.543},{"s":"d","r":3.5,"g":0.536},{"s":"d","r":5,"g":0.529},{"s":"d","r":6.5,"g":0.523},{"s":"d","r":8,"g":0.518},{"s":"d","r":10,"g":0.514},{"s":"d","r":12,"g":0.51},{"s":"d","r":14.5,"g":0.507},{"s":"d","r":17,"g":0.504},{"s":"d","r":20,"g":0.502},
{"s":"e","r":0.1,"g":0.556},{"s":"e","r":0.3,"g":0.55},{"s":"e","r":0.6,"g":0.543},{"s":"e","r":1.0,"g":0.538},{"s":"e","r":1.9,"g":0.533},{"s":"e","r":3.4,"g":0.525},{"s":"e","r":5,"g":0.521},{"s":"e","r":7.4,"g":0.516},{"s":"e","r":10,"g":0.513},{"s":"e","r":12.5,"g":0.511},{"s":"e","r":15,"g":0.509},{"s":"e","r":17.5,"g":0.508},{"s":"e","r":20,"g":0.507},
{"s":"f","r":0.1,"g":0.565},{"s":"f","r":0.4,"g":0.553},{"s":"f","r":0.75,"g":0.544},{"s":"f","r":1.2,"g":0.535},{"s":"f","r":1.9,"g":0.527},{"s":"f","r":2.8,"g":0.521},{"s":"f","r":3.9,"g":0.517},{"s":"f","r":5,"g":0.513},{"s":"f","r":7.4,"g":0.509},{"s":"f","r":10,"g":0.506},{"s":"f","r":13,"g":0.502},{"s":"f","r":16,"g":0.499},{"s":"f","r":20,"g":0.496}
],
"leg":[
{"s":"a","lab":"0.016","x1":14.13,"x2":15.93,"xt":16.16,"g":0.4472},
{"s":"b","lab":"0.024","x1":14.13,"x2":15.93,"xt":16.16,"g":0.4046},
{"s":"c","lab":"0.064","x1":14.13,"x2":15.93,"xt":16.16,"g":0.2917},
{"s":"d","lab":"0.15","x1":14.13,"x2":15.93,"xt":16.16,"g":0.247},
{"s":"e","lab":"0.26","x1":14.13,"x2":15.93,"xt":16.16,"g":0.2023},
{"s":"f","lab":"0.38","x1":14.13,"x2":15.93,"xt":16.16,"g":0.1588}
],
"pts":[
{"s":"a","r":1,"w":0.0293,"lo":0.0123,"hi":0.0463},{"s":"a","r":2,"w":0.0544,"lo":0.0281,"hi":0.0807},{"s":"a","r":3,"w":0.0643,"lo":0.0223,"hi":0.106},
{"s":"b","r":1,"w":0.0198,"lo":0.0183,"hi":0.0213},{"s":"b","r":2,"w":0.0346,"lo":0.0326,"hi":0.0366},{"s":"b","r":3,"w":0.048,"lo":0.044,"hi":0.052},{"s":"b","r":4,"w":0.0622,"lo":0.0562,"hi":0.0682},{"s":"b","r":5,"w":0.0773,"lo":0.0693,"hi":0.0853},{"s":"b","r":6,"w":0.0924,"lo":0.0814,"hi":0.1034},{"s":"b","r":7,"w":0.1086,"lo":0.0936,"hi":0.1236},{"s":"b","r":8,"w":0.1268,"lo":0.1078,"hi":0.1458},{"s":"b","r":9,"w":0.1444,"lo":0.1214,"hi":0.1674},{"s":"b","r":10,"w":0.162,"lo":0.134,"hi":0.19},{"s":"b","r":11,"w":0.1772,"lo":0.1442,"hi":0.2102},{"s":"b","r":12,"w":0.1888,"lo":0.1478,"hi":0.2298},{"s":"b","r":13,"w":0.2035,"lo":0.1565,"hi":0.2505},{"s":"b","r":14,"w":0.2177,"lo":0.1627,"hi":0.2727},{"s":"b","r":15,"w":0.2297,"lo":0.1647,"hi":0.2947},
{"s":"c","r":1,"w":0.0248,"lo":0.0218,"hi":0.0278},{"s":"c","r":2,"w":0.0329,"lo":0.0279,"hi":0.0379},{"s":"c","r":3,"w":0.0394,"lo":0.0324,"hi":0.0464},{"s":"c","r":4,"w":0.0456,"lo":0.0362,"hi":0.055},{"s":"c","r":5,"w":0.0516,"lo":0.0412,"hi":0.062},{"s":"c","r":6,"w":0.0575,"lo":0.0455,"hi":0.0695},{"s":"c","r":7,"w":0.0636,"lo":0.0501,"hi":0.0771},{"s":"c","r":8,"w":0.0692,"lo":0.0546,"hi":0.0838},{"s":"c","r":9,"w":0.0741,"lo":0.0571,"hi":0.0911},{"s":"c","r":10,"w":0.0792,"lo":0.0602,"hi":0.0982},{"s":"c","r":11,"w":0.0838,"lo":0.0634,"hi":0.1042},{"s":"c","r":12,"w":0.0886,"lo":0.0656,"hi":0.1116},{"s":"c","r":13,"w":0.093,"lo":0.069,"hi":0.117},{"s":"c","r":14,"w":0.0973,"lo":0.0713,"hi":0.1233},{"s":"c","r":15,"w":0.101,"lo":0.072,"hi":0.13},{"s":"c","r":16,"w":0.1049,"lo":0.0749,"hi":0.1349},{"s":"c","r":17,"w":0.1086,"lo":0.0776,"hi":0.1396},{"s":"c","r":18,"w":0.1123,"lo":0.0793,"hi":0.1453},{"s":"c","r":19,"w":0.1156,"lo":0.0816,"hi":0.1496},{"s":"c","r":20,"w":0.1193,"lo":0.0843,"hi":0.1543},
{"s":"d","r":1,"w":0.0154,"lo":0.0144,"hi":0.0164},{"s":"d","r":2,"w":0.0194,"lo":0.0174,"hi":0.0214},{"s":"d","r":3,"w":0.0231,"lo":0.0201,"hi":0.0261},{"s":"d","r":4,"w":0.026,"lo":0.022,"hi":0.03},{"s":"d","r":5,"w":0.0291,"lo":0.0246,"hi":0.0336},{"s":"d","r":6,"w":0.0319,"lo":0.0264,"hi":0.0374},{"s":"d","r":7,"w":0.0348,"lo":0.0284,"hi":0.0412},{"s":"d","r":8,"w":0.0374,"lo":0.0302,"hi":0.0446},{"s":"d","r":9,"w":0.0402,"lo":0.0322,"hi":0.0482},{"s":"d","r":10,"w":0.043,"lo":0.0345,"hi":0.0515},{"s":"d","r":11,"w":0.0458,"lo":0.0362,"hi":0.0554},{"s":"d","r":12,"w":0.0488,"lo":0.0386,"hi":0.059},{"s":"d","r":13,"w":0.0519,"lo":0.0405,"hi":0.0633},{"s":"d","r":14,"w":0.0541,"lo":0.0421,"hi":0.0661},{"s":"d","r":15,"w":0.0582,"lo":0.0444,"hi":0.072},{"s":"d","r":16,"w":0.0605,"lo":0.0455,"hi":0.0755},{"s":"d","r":17,"w":0.064,"lo":0.048,"hi":0.08},{"s":"d","r":18,"w":0.0664,"lo":0.0493,"hi":0.0835},{"s":"d","r":19,"w":0.0688,"lo":0.0508,"hi":0.0868},{"s":"d","r":20,"w":0.0709,"lo":0.0519,"hi":0.0899},
{"s":"e","r":1,"w":0.0145,"lo":0.0135,"hi":0.0155},{"s":"e","r":2,"w":0.0219,"lo":0.0189,"hi":0.0249},{"s":"e","r":3,"w":0.0277,"lo":0.0247,"hi":0.0307},{"s":"e","r":4,"w":0.0329,"lo":0.0299,"hi":0.0359},{"s":"e","r":5,"w":0.0375,"lo":0.0335,"hi":0.0415},{"s":"e","r":6,"w":0.0419,"lo":0.0362,"hi":0.0476},{"s":"e","r":7,"w":0.0456,"lo":0.0391,"hi":0.0521},{"s":"e","r":8,"w":0.0481,"lo":0.0404,"hi":0.0558},{"s":"e","r":9,"w":0.0512,"lo":0.0424,"hi":0.06},{"s":"e","r":10,"w":0.0532,"lo":0.0442,"hi":0.0622},{"s":"e","r":11,"w":0.0538,"lo":0.0428,"hi":0.0648},{"s":"e","r":12,"w":0.0553,"lo":0.0443,"hi":0.0663},{"s":"e","r":13,"w":0.0558,"lo":0.0428,"hi":0.0688},{"s":"e","r":14,"w":0.0568,"lo":0.0428,"hi":0.0708},{"s":"e","r":15,"w":0.0568,"lo":0.0408,"hi":0.0728},{"s":"e","r":16,"w":0.0573,"lo":0.0403,"hi":0.0743},
{"s":"f","r":1,"w":0.0172,"lo":0.0162,"hi":0.0182},{"s":"f","r":2,"w":0.0221,"lo":0.0196,"hi":0.0246},{"s":"f","r":3,"w":0.0262,"lo":0.0232,"hi":0.0292},{"s":"f","r":4,"w":0.0301,"lo":0.0266,"hi":0.0336},{"s":"f","r":5,"w":0.035,"lo":0.031,"hi":0.039},{"s":"f","r":6,"w":0.0382,"lo":0.0332,"hi":0.0432},{"s":"f","r":7,"w":0.0413,"lo":0.0353,"hi":0.0473},{"s":"f","r":8,"w":0.0442,"lo":0.0372,"hi":0.0512},{"s":"f","r":9,"w":0.0488,"lo":0.0408,"hi":0.0568},{"s":"f","r":10,"w":0.0513,"lo":0.0423,"hi":0.0603},{"s":"f","r":11,"w":0.0506,"lo":0.0406,"hi":0.0606},{"s":"f","r":12,"w":0.053,"lo":0.042,"hi":0.064},{"s":"f","r":13,"w":0.057,"lo":0.045,"hi":0.069},{"s":"f","r":14,"w":0.0585,"lo":0.0455,"hi":0.0715},{"s":"f","r":15,"w":0.0604,"lo":0.0454,"hi":0.0754},{"s":"f","r":16,"w":0.0609,"lo":0.0459,"hi":0.0759},{"s":"f","r":17,"w":0.0609,"lo":0.0459,"hi":0.0759}
],
"wfit":[
{"s":"a","r":0.66,"w":0.011},{"s":"a","r":0.85,"w":0.016},{"s":"a","r":1.0,"w":0.021},{"s":"a","r":1.26,"w":0.03},{"s":"a","r":1.5,"w":0.038},{"s":"a","r":2,"w":0.056},{"s":"a","r":2.5,"w":0.076},{"s":"a","r":3,"w":0.097},{"s":"a","r":3.5,"w":0.115},{"s":"a","r":4,"w":0.134},{"s":"a","r":4.5,"w":0.154},{"s":"a","r":5,"w":0.175},{"s":"a","r":5.5,"w":0.197},{"s":"a","r":6,"w":0.22},{"s":"a","r":6.5,"w":0.248},{"s":"a","r":7,"w":0.28},{"s":"a","r":7.35,"w":0.302},
{"s":"b","r":0.75,"w":0.011},{"s":"b","r":0.85,"w":0.014},{"s":"b","r":1,"w":0.019},{"s":"b","r":1.25,"w":0.024},{"s":"b","r":1.5,"w":0.0285},{"s":"b","r":2,"w":0.0355},{"s":"b","r":2.45,"w":0.0421},{"s":"b","r":3,"w":0.0483},{"s":"b","r":4,"w":0.0607},{"s":"b","r":5,"w":0.0747},{"s":"b","r":6,"w":0.0901},{"s":"b","r":7,"w":0.1064},{"s":"b","r":8,"w":0.1231},{"s":"b","r":9,"w":0.1408},{"s":"b","r":10,"w":0.158},{"s":"b","r":11,"w":0.17},{"s":"b","r":13,"w":0.196},{"s":"b","r":15,"w":0.225},{"s":"b","r":16.7,"w":0.2496},{"s":"b","r":18,"w":0.2684},{"s":"b","r":19.5,"w":0.2886},{"s":"b","r":20,"w":0.294},
{"s":"c","r":0.37,"w":0.011},{"s":"c","r":0.5,"w":0.0135},{"s":"c","r":0.75,"w":0.0175},{"s":"c","r":1,"w":0.021},{"s":"c","r":1.5,"w":0.027},{"s":"c","r":2,"w":0.032},{"s":"c","r":3,"w":0.0405},{"s":"c","r":4,"w":0.0476},{"s":"c","r":5,"w":0.0541},{"s":"c","r":6,"w":0.0594},{"s":"c","r":7,"w":0.0653},{"s":"c","r":8,"w":0.0695},{"s":"c","r":9,"w":0.0747},{"s":"c","r":10,"w":0.0797},{"s":"c","r":12,"w":0.0883},{"s":"c","r":14,"w":0.096},{"s":"c","r":16,"w":0.104},{"s":"c","r":18,"w":0.112},{"s":"c","r":20,"w":0.119},
{"s":"d","r":0.85,"w":0.011},{"s":"d","r":1,"w":0.0136},{"s":"d","r":1.5,"w":0.0164},{"s":"d","r":2,"w":0.0198},{"s":"d","r":3,"w":0.0246},{"s":"d","r":4,"w":0.0281},{"s":"d","r":5,"w":0.0319},{"s":"d","r":6,"w":0.0354},{"s":"d","r":7,"w":0.0388},{"s":"d","r":8,"w":0.042},{"s":"d","r":9,"w":0.0449},{"s":"d","r":10,"w":0.047},{"s":"d","r":12,"w":0.0498},{"s":"d","r":14,"w":0.0545},{"s":"d","r":16,"w":0.0594},{"s":"d","r":18,"w":0.0645},{"s":"d","r":20,"w":0.068},
{"s":"e","r":0.5,"w":0.011},{"s":"e","r":0.75,"w":0.0145},{"s":"e","r":1,"w":0.0178},{"s":"e","r":1.5,"w":0.0207},{"s":"e","r":2,"w":0.0233},{"s":"e","r":3,"w":0.0281},{"s":"e","r":4,"w":0.0329},{"s":"e","r":5,"w":0.0368},{"s":"e","r":6,"w":0.0405},{"s":"e","r":7,"w":0.0439},{"s":"e","r":8,"w":0.0475},{"s":"e","r":9,"w":0.0503},{"s":"e","r":10,"w":0.053},{"s":"e","r":12,"w":0.0565},{"s":"e","r":14,"w":0.0594},{"s":"e","r":16,"w":0.0626},{"s":"e","r":18,"w":0.0673},{"s":"e","r":20,"w":0.0714},
{"s":"f","r":0.45,"w":0.011},{"s":"f","r":0.7,"w":0.015},{"s":"f","r":1,"w":0.0186},{"s":"f","r":1.5,"w":0.0207},{"s":"f","r":2,"w":0.0226},{"s":"f","r":3,"w":0.0273},{"s":"f","r":4,"w":0.0312},{"s":"f","r":5,"w":0.035},{"s":"f","r":6,"w":0.0381},{"s":"f","r":7,"w":0.041},{"s":"f","r":8,"w":0.044},{"s":"f","r":9,"w":0.0467},{"s":"f","r":10,"w":0.048},{"s":"f","r":11.3,"w":0.0493},{"s":"f","r":13,"w":0.0525},{"s":"f","r":15.3,"w":0.0558},{"s":"f","r":17.3,"w":0.06},{"s":"f","r":19.3,"w":0.0633},{"s":"f","r":20,"w":0.0645}
]
},
"vconcat":[
{
"width":815,"height":659,
"resolve":{"axis":{"x":"independent","y":"independent"}},
"layer":[
{"data":{"name":"g6"},"mark":{"type":"line","strokeWidth":3,"clip":true},
 "encoding":{
  "x":{"field":"r","type":"quantitative","scale":{"domain":[0,20],"nice":false,"zero":false},"axis":{"orient":"bottom","values":[0,5,10,15,20],"tickSize":-12,"labels":false,"title":null}},
  "y":{"field":"g","type":"quantitative","scale":{"domain":[0,0.6],"nice":false,"zero":false},"axis":{"orient":"left","values":[0,0.2,0.4,0.6],"format":".1f","tickSize":-12,"labelFontSize":40,"labelPadding":24,"title":"G₆","titleFontSize":64,"titlePadding":26,"titleY":387}},
  "color":{"field":"s","type":"nominal","scale":{"domain":["a","b","c","d","e","f"],"range":["#FF0000","#FF00FF","#00FFFF","#00EE00","#1580FF","#FF8000"]},"legend":null}
 }},
{"data":{"name":"g6fit"},"mark":{"type":"line","strokeWidth":2.8,"strokeDash":[18,10],"clip":true},
 "encoding":{
  "x":{"field":"r","type":"quantitative","scale":{"domain":[0,20],"nice":false,"zero":false},"axis":{"orient":"bottom","values":[1,2,3,4,6,7,8,9,11,12,13,14,16,17,18,19],"tickSize":-7,"labels":false,"domain":false,"title":null}},
  "y":{"field":"g","type":"quantitative","scale":{"domain":[0,0.6],"nice":false,"zero":false},"axis":{"orient":"left","values":[0.1,0.3,0.5],"tickSize":-7,"labels":false,"domain":false,"title":null}},
  "color":{"field":"s","type":"nominal","scale":{"domain":["a","b","c","d","e","f"],"range":["#FF0000","#FF00FF","#00FFFF","#00EE00","#1580FF","#FF8000"]},"legend":null}
 }},
{"data":{"name":"leg"},"mark":{"type":"rule","strokeWidth":3},
 "encoding":{
  "x":{"field":"x1","type":"quantitative","scale":{"domain":[0,20],"nice":false,"zero":false},"axis":{"orient":"top","values":[0,5,10,15,20],"tickSize":-12,"labels":false,"title":null}},
  "x2":{"field":"x2"},
  "y":{"field":"g","type":"quantitative","scale":{"domain":[0,0.6],"nice":false,"zero":false},"axis":{"orient":"right","values":[0,0.2,0.4,0.6],"tickSize":-12,"labels":false,"title":null}},
  "color":{"field":"s","type":"nominal","scale":{"domain":["a","b","c","d","e","f"],"range":["#FF0000","#FF00FF","#00FFFF","#00EE00","#1580FF","#FF8000"]},"legend":null}
 }},
{"data":{"name":"leg"},"mark":{"type":"text","font":"Liberation Sans","fontWeight":"bold","fontSize":37,"align":"left","baseline":"middle","dy":-3,"color":"black"},
 "encoding":{
  "x":{"field":"xt","type":"quantitative","scale":{"domain":[0,20],"nice":false,"zero":false},"axis":{"orient":"top","values":[1,2,3,4,6,7,8,9,11,12,13,14,16,17,18,19],"tickSize":-7,"labels":false,"domain":false,"title":null}},
  "y":{"field":"g","type":"quantitative","scale":{"domain":[0,0.6],"nice":false,"zero":false},"axis":{"orient":"right","values":[0.1,0.3,0.5],"tickSize":-7,"labels":false,"domain":false,"title":null}},
  "text":{"field":"lab"}
 }},
{"data":{"values":[{"t":"Sample P","r":6.4,"g":0.5493}]},"mark":{"type":"text","font":"Liberation Sans","fontWeight":"bold","fontSize":50,"align":"center","baseline":"alphabetic","color":"black"},
 "encoding":{"x":{"field":"r","type":"quantitative","scale":{"domain":[0,20],"nice":false,"zero":false},"axis":null},"y":{"field":"g","type":"quantitative","scale":{"domain":[0,0.6],"nice":false,"zero":false},"axis":null},"text":{"field":"t"}}},
{"data":{"values":[{"t":"(a)","r":18.03,"g":0.0558}]},"mark":{"type":"text","font":"Liberation Sans","fontWeight":"bold","fontSize":56,"align":"center","baseline":"alphabetic","color":"black"},
 "encoding":{"x":{"field":"r","type":"quantitative","scale":{"domain":[0,20],"nice":false,"zero":false},"axis":null},"y":{"field":"g","type":"quantitative","scale":{"domain":[0,0.6],"nice":false,"zero":false},"axis":null},"text":{"field":"t"}}},
{"data":{"values":[{"t":"B / B","r":14.19,"g":0.5415}]},"mark":{"type":"text","font":"Liberation Sans","fontWeight":"bold","fontSize":38,"align":"left","baseline":"alphabetic","color":"black"},
 "encoding":{"x":{"field":"r","type":"quantitative","scale":{"domain":[0,20],"nice":false,"zero":false},"axis":null},"y":{"field":"g","type":"quantitative","scale":{"domain":[0,0.6],"nice":false,"zero":false},"axis":null},"text":{"field":"t"}}},
{"data":{"values":[{"t":"ord-dis","r":16.32,"g":0.5281}]},"mark":{"type":"text","font":"Liberation Sans","fontWeight":"bold","fontSize":26,"align":"left","baseline":"alphabetic","color":"black"},
 "encoding":{"x":{"field":"r","type":"quantitative","scale":{"domain":[0,20],"nice":false,"zero":false},"axis":null},"y":{"field":"g","type":"quantitative","scale":{"domain":[0,0.6],"nice":false,"zero":false},"axis":null},"text":{"field":"t"}}}
]
},
{
"width":815,"height":663,
"resolve":{"axis":{"x":"independent","y":"independent"}},
"layer":[
{"data":{"name":"wfit"},"mark":{"type":"line","strokeWidth":2.8,"strokeDash":[18,10],"clip":true},
 "encoding":{
  "x":{"field":"r","type":"quantitative","scale":{"domain":[0,20],"nice":false,"zero":false},"axis":{"orient":"bottom","values":[0,5,10,15,20],"tickSize":-14,"labelFontSize":42,"labelFont":"Liberation Sans Narrow, Liberation Sans","labelPadding":20,"title":"r/a₀","titleFont":"Liberation Sans Narrow, Liberation Sans","titleFontSize":60,"titlePadding":12}},
  "y":{"field":"w","type":"quantitative","scale":{"type":"log","domain":[0.012,0.3],"nice":false},"axis":{"orient":"left","values":[0.1],"format":".1f","tickSize":-12,"labelFontSize":40,"labelPadding":24,"title":"W*/a₀²","titleFontSize":62,"titlePadding":12,"titleY":392}},
  "color":{"field":"s","type":"nominal","scale":{"domain":["a","b","c","d","e","f"],"range":["#FF0000","#FF00FF","#00FFFF","#00EE00","#1580FF","#FF8000"]},"legend":null}
 }},
{"data":{"name":"pts"},"mark":{"type":"rule","strokeWidth":1.5,"opacity":0.75,"clip":true},
 "encoding":{
  "x":{"field":"r","type":"quantitative","scale":{"domain":[0,20],"nice":false,"zero":false},"axis":{"orient":"bottom","values":[1,2,3,4,6,7,8,9,11,12,13,14,16,17,18,19],"tickSize":-8,"labels":false,"domain":false,"title":null}},
  "y":{"field":"lo","type":"quantitative","scale":{"type":"log","domain":[0.012,0.3],"nice":false},"axis":{"orient":"left","values":[0.02,0.04,0.06,0.08,0.2],"tickSize":-7,"labels":false,"domain":false,"title":null}},
  "y2":{"field":"hi"},
  "color":{"field":"s","type":"nominal","scale":{"domain":["a","b","c","d","e","f"],"range":["#FF0000","#FF00FF","#00FFFF","#00EE00","#1580FF","#FF8000"]},"legend":null}
 }},
{"data":{"name":"pts"},"mark":{"type":"tick","orient":"horizontal","size":14,"thickness":1.5,"opacity":0.8,"clip":true},
 "encoding":{
  "x":{"field":"r","type":"quantitative","scale":{"domain":[0,20],"nice":false,"zero":false},"axis":{"orient":"top","values":[0,5,10,15,20],"tickSize":-14,"labels":false,"title":null}},
  "y":{"field":"lo","type":"quantitative","scale":{"type":"log","domain":[0.012,0.3],"nice":false},"axis":{"orient":"right","values":[0.1],"tickSize":-12,"labels":false,"title":null}},
  "color":{"field":"s","type":"nominal","scale":{"domain":["a","b","c","d","e","f"],"range":["#FF0000","#FF00FF","#00FFFF","#00EE00","#1580FF","#FF8000"]},"legend":null}
 }},
{"data":{"name":"pts"},"mark":{"type":"tick","orient":"horizontal","size":14,"thickness":1.5,"opacity":0.8,"clip":true},
 "encoding":{
  "x":{"field":"r","type":"quantitative","scale":{"domain":[0,20],"nice":false,"zero":false},"axis":{"orient":"top","values":[1,2,3,4,6,7,8,9,11,12,13,14,16,17,18,19],"tickSize":-8,"labels":false,"domain":false,"title":null}},
  "y":{"field":"hi","type":"quantitative","scale":{"type":"log","domain":[0.012,0.3],"nice":false},"axis":{"orient":"right","values":[0.02,0.04,0.06,0.08,0.2],"tickSize":-7,"labels":false,"domain":false,"title":null}},
  "color":{"field":"s","type":"nominal","scale":{"domain":["a","b","c","d","e","f"],"range":["#FF0000","#FF00FF","#00FFFF","#00EE00","#1580FF","#FF8000"]},"legend":null}
 }},
{"data":{"name":"pts"},"mark":{"type":"circle","size":430,"opacity":1,"clip":true},
 "encoding":{
  "x":{"field":"r","type":"quantitative","scale":{"domain":[0,20],"nice":false,"zero":false},"axis":null},
  "y":{"field":"w","type":"quantitative","scale":{"type":"log","domain":[0.012,0.3],"nice":false},"axis":null},
  "color":{"field":"s","type":"nominal","scale":{"domain":["a","b","c","d","e","f"],"range":["#FF0000","#FF00FF","#00FFFF","#00EE00","#1580FF","#FF8000"]},"legend":null}
 }},
{"data":{"values":[{"t":"(b)","r":18.06,"w":0.01725}]},"mark":{"type":"text","font":"Liberation Sans","fontWeight":"bold","fontSize":56,"align":"center","baseline":"alphabetic","color":"black"},
 "encoding":{"x":{"field":"r","type":"quantitative","scale":{"domain":[0,20],"nice":false,"zero":false},"axis":null},"y":{"field":"w","type":"quantitative","scale":{"type":"log","domain":[0.012,0.3],"nice":false},"axis":null},"text":{"field":"t"}}}
]
}
]
}
